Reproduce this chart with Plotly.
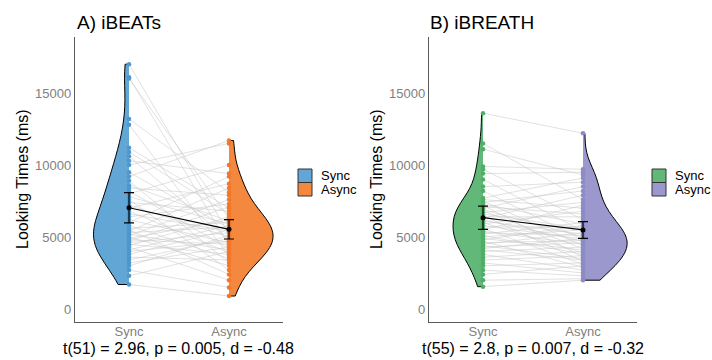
import plotly.graph_objects as go

# ---------------- data ----------------
conditions = ["Sync", "Async"]
panel_titles = ["A) iBEATs", "B) iBREATH"]
stats_text = ["t(51) = 2.96, p = 0.005, d = -0.48", "t(55) = 2.8, p = 0.007, d = -0.32"]
y_title = "Looking Times (ms)"
y_ticks = [0, 5000, 10000, 15000]

# iBEATs, paired per participant (n = 52)
ibeats_sync = [17000, 16100, 16000, 13200, 12800, 11200, 10900, 10600, 10300, 10000,
               9500, 9200, 8900, 8600, 8400, 8200, 8000, 7800, 7600, 7400,
               7200, 7000, 6800, 6600, 6400, 6200, 6000, 5800, 5600, 5500,
               5400, 5300, 5200, 5100, 5000, 4900, 4800, 4700, 4600, 4500,
               4400, 4300, 4100, 4000, 3800, 3600, 3400, 3200, 3000, 2700,
               2300, 1700]
ibeats_async = [5200, 4400, 6300, 8100, 3700, 7000, 6600, 4800, 9400, 11500,
                5600, 11700, 3200, 6100, 7900, 4200, 10000, 5900, 2700, 6800,
                5000, 8700, 3900, 5400, 7300, 4600, 9200, 3500, 6000, 2400,
                8400, 5700, 4100, 7600, 3000, 6200, 4500, 7100, 5300, 3800,
                6400, 2000, 5800, 4700, 5500, 3400, 4900, 4300, 5100, 1500,
                4000, 900]

# iBREATH, paired per participant (n = 56)
ibreath_sync = [13600, 11500, 11100, 9900, 9700, 9400, 9000, 8500, 8200, 7700,
                7600, 7500, 7400, 7300, 7200, 7100, 7000, 6900, 6800, 6700,
                6600, 6500, 6400, 6300, 6200, 6100, 6000, 5900, 5800, 5700,
                5600, 5500, 5400, 5300, 5200, 5100, 5000, 4900, 4800, 4700,
                4600, 4500, 4400, 4300, 4200, 4100, 4000, 3800, 3600, 3400,
                3200, 3000, 2700, 2400, 2000, 1550]
ibreath_async = [12200, 7600, 9300, 9700, 6200, 9500, 5400, 8800, 4800, 9100,
                 7000, 4400, 8200, 5900, 3600, 6600, 8500, 5000, 4200, 7400,
                 5600, 3300, 6400, 7900, 4700, 5200, 3900, 6800, 4850, 5700,
                 3100, 7200, 4500, 5100, 6000, 3800, 5500, 4100, 5800, 2900,
                 4750, 5300, 3500, 4600, 4900, 3400, 4300, 2700, 4000, 3700,
                 2500, 3200, 2300, 3000, 2100, 2000]

# condition means and 95% CI half-widths
ibeats_means = [7030, 5530]
ibeats_ci = [1045, 670]
ibreath_means = [6340, 5490]
ibreath_ci = [810, 580]

# ---------------- styling ----------------
FONT = "Liberation Sans, Arial, Helvetica, sans-serif"
panel_colors = [
    {"Sync": ("#62a6d6", "#4f97cd"), "Async": ("#f5883f", "#f2772a")},
    {"Sync": ("#62b878", "#4fae68"), "Async": ("#9a98cc", "#8d8bc6")},
]
half_widths = [{"Sync": 0.355, "Async": 0.44}, {"Sync": 0.30, "Async": 0.44}]
W, H = 712, 360
x_domains = [[75 / W, 283 / W], [429 / W, 637 / W]]
y_domain = [1 - 322 / H, 1 - 37 / H]

panels = [
    (ibeats_sync, ibeats_async, ibeats_means, ibeats_ci),
    (ibreath_sync, ibreath_async, ibreath_means, ibreath_ci),
]

fig = go.Figure()
positions = {"Sync": 1, "Async": 2}

for p, (sync, asyn, means, ci) in enumerate(panels):
    xa = "x" if p == 0 else "x2"
    ya = "y" if p == 0 else "y2"
    cols = panel_colors[p]
    vals = {"Sync": sync, "Async": asyn}
    # half violins
    for cond, side in (("Sync", "negative"), ("Async", "positive")):
        fig.add_trace(go.Violin(
            y=vals[cond], x0=positions[cond], xaxis=xa, yaxis=ya,
            side=side, spanmode="hard", width=2 * half_widths[p][cond],
            scalemode="width", points=False,
            fillcolor=cols[cond][0], opacity=1,
            line=dict(color="black", width=1),
            box_visible=False, meanline_visible=False,
            showlegend=False, hoverinfo="skip",
        ))
    # paired lines
    lx, ly = [], []
    for s, a in zip(sync, asyn):
        lx += [positions["Sync"], positions["Async"], None]
        ly += [s, a, None]
    fig.add_trace(go.Scatter(
        x=lx, y=ly, xaxis=xa, yaxis=ya, mode="lines",
        line=dict(color="rgba(200,200,200,0.55)", width=1),
        showlegend=False, hoverinfo="skip",
    ))
    # points
    for cond in conditions:
        fig.add_trace(go.Scatter(
            x=[positions[cond]] * len(vals[cond]), y=vals[cond],
            xaxis=xa, yaxis=ya, mode="markers",
            marker=dict(color=cols[cond][1], size=4.5),
            showlegend=False, hoverinfo="skip",
        ))
    # means with CI
    fig.add_trace(go.Scatter(
        x=[positions[c] for c in conditions], y=means, xaxis=xa, yaxis=ya,
        mode="lines+markers",
        line=dict(color="black", width=1.2),
        marker=dict(color="black", size=5),
        error_y=dict(type="data", array=ci, color="black", thickness=1.2, width=5),
        showlegend=False, hoverinfo="skip",
    ))

axis_common = dict(showgrid=False, zeroline=False, showline=True,
                   linecolor="#5a5a5a", linewidth=1.3, ticks="",
                   tickfont=dict(family=FONT, size=13, color="#808080"))

layout = dict(
    width=W, height=H, margin=dict(l=0, r=0, t=0, b=0),
    paper_bgcolor="white", plot_bgcolor="white",
    violinmode="overlay", violingap=0, violingroupgap=0,
    showlegend=False,
)
for p in range(2):
    sfx = "" if p == 0 else "2"
    layout["xaxis" + sfx] = dict(
        domain=x_domains[p], range=[0.46, 2.54], anchor="y" + sfx,
        tickvals=[1, 2], ticktext=conditions, ticklabelstandoff=-3, **axis_common)
    layout["yaxis" + sfx] = dict(
        domain=y_domain, range=[-903, 18887], anchor="x" + sfx,
        tickvals=y_ticks, ticktext=[str(v) for v in y_ticks], **axis_common)
fig.update_layout(**layout)

annotations = []
shapes = []
title_x = [75, 428]
ytitle_x = [22, 376]
stats_x = [179, 533]
legend_x = [298, 652]
for p in range(2):
    annotations.append(dict(text=panel_titles[p], x=title_x[p] / W, y=1 - 22 / H,
                            xref="paper", yref="paper", xanchor="left", yanchor="middle",
                            showarrow=False, font=dict(family=FONT, size=19, color="black")))
    annotations.append(dict(text=y_title, x=ytitle_x[p] / W, y=1 - 179 / H, textangle=-90,
                            xref="paper", yref="paper", xanchor="center", yanchor="middle",
                            showarrow=False, font=dict(family=FONT, size=16, color="black")))
    annotations.append(dict(text=stats_text[p], x=stats_x[p] / W, y=1 - 348 / H,
                            xref="paper", yref="paper", xanchor="center", yanchor="middle",
                            showarrow=False, font=dict(family=FONT, size=16, color="black")))
    # legend keys
    for i, cond in enumerate(conditions):
        y0 = 169 + i * 13.5
        shapes.append(dict(type="rect", xref="paper", yref="paper",
                           x0=legend_x[p] / W, x1=(legend_x[p] + 14) / W,
                           y0=1 - (y0 + 13.5) / H, y1=1 - y0 / H,
                           fillcolor=panel_colors[p][cond][0],
                           line=dict(color="#333333", width=1)))
        annotations.append(dict(text=cond, x=(legend_x[p] + 21) / W, y=1 - (y0 + 6.75) / H,
                                xref="paper", yref="paper", xanchor="left", yanchor="middle",
                                showarrow=False, font=dict(family=FONT, size=13, color="black")))
fig.update_layout(annotations=annotations, shapes=shapes)

fig.write_html("out.html")
